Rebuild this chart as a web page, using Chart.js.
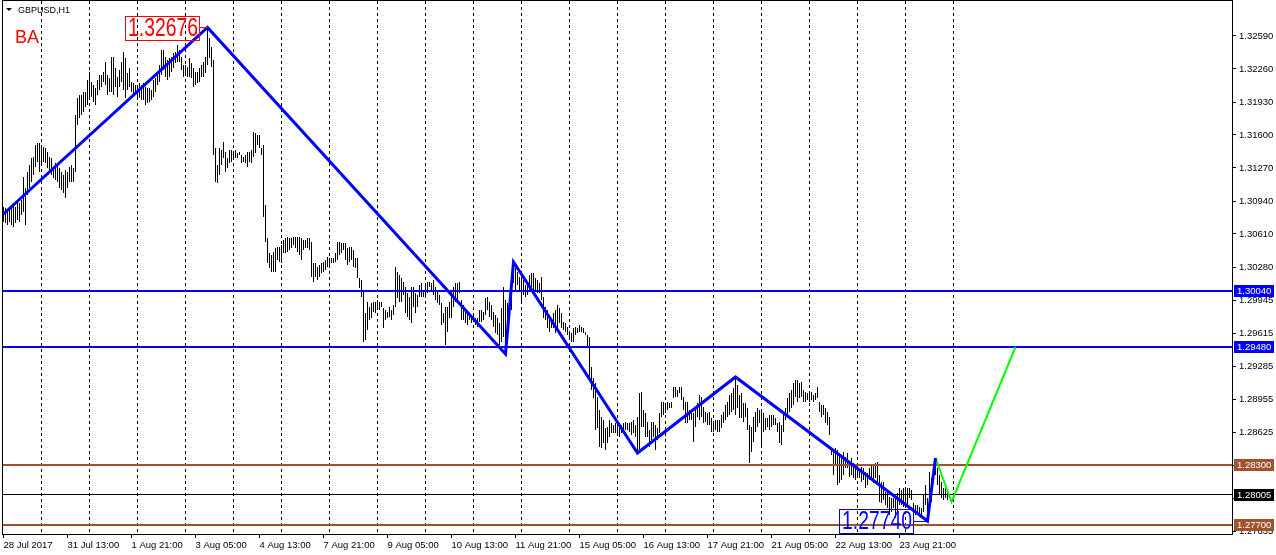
<!DOCTYPE html>
<html>
<head>
<meta charset="utf-8">
<script src="https://cdn.jsdelivr.net/npm/chart.js@4.4.1/dist/chart.umd.min.js"></script>
<style>
  html, body { margin: 0; padding: 0; background: #fff; }
  canvas { display: block; }
</style>
</head>
<body>
<canvas id="chart" width="1276" height="555"></canvas>
<script>
/* globals Chart:false */

// GBPUSD H1 bars, one per hour starting 28 Jul 2017 05:00 (bar index 0)
const highs = [
  1.3088,1.3087,1.3083,1.3085,1.3087,1.3090,1.3088,1.3093,1.3092,1.3095,
  1.3118,1.3107,1.3123,1.3130,1.3137,1.3138,1.3150,1.3152,1.3152,1.3150,
  1.3148,1.3147,1.3143,1.3138,1.3137,1.3128,1.3132,1.3130,1.3127,1.3123,
  1.3120,1.3125,1.3123,1.3128,1.3130,1.3127,1.3180,1.3197,1.3200,1.3200,
  1.3203,1.3203,1.3215,1.3223,1.3213,1.3210,1.3207,1.3215,1.3220,1.3220,
  1.3223,1.3233,1.3220,1.3217,1.3238,1.3238,1.3227,1.3218,1.3225,1.3233,
  1.3243,1.3237,1.3222,1.3227,1.3213,1.3212,1.3210,1.3208,1.3212,1.3210,
  1.3212,1.3208,1.3207,1.3207,1.3205,1.3215,1.3217,1.3220,1.3230,1.3245,
  1.3245,1.3238,1.3235,1.3237,1.3238,1.3242,1.3243,1.3250,1.3245,1.3238,
  1.3230,1.3230,1.3228,1.3237,1.3232,1.3227,1.3223,1.3223,1.3227,1.3230,
  1.3233,1.3238,1.32676,1.3257,1.3248,1.3235,1.3147,1.3130,1.3147,1.3145,
  1.3153,1.3143,1.3137,1.3145,1.3145,1.3143,1.3145,1.3142,1.3143,1.3140,
  1.3138,1.3140,1.3143,1.3143,1.3145,1.3163,1.3162,1.3160,1.3160,1.3147,
  1.3150,1.3090,1.3057,1.3042,1.3040,1.3043,1.3047,1.3048,1.3048,1.3050,
  1.3055,1.3057,1.3058,1.3057,1.3057,1.3058,1.3058,1.3058,1.3058,1.3057,
  1.3055,1.3055,1.3057,1.3057,1.3053,1.3032,1.3032,1.3028,1.3030,1.3032,
  1.3033,1.3035,1.3038,1.3037,1.3037,1.3037,1.3042,1.3053,1.3053,1.3052,
  1.3052,1.3052,1.3047,1.3048,1.3048,1.3045,1.3037,1.3037,1.3017,1.3015,
  1.3005,1.2982,1.2993,1.2988,1.2992,1.2993,1.2993,1.2995,1.2993,1.2993,
  1.2987,1.2985,1.2983,1.2988,1.2985,1.2990,1.3028,1.3023,1.3020,1.3017,
  1.3013,1.3008,1.3002,1.2998,1.3008,1.3008,1.3002,1.3000,1.3010,1.3012,
  1.3005,1.3010,1.3013,1.3013,1.3012,1.3015,1.3008,1.3003,1.3000,1.2992,
  1.2982,1.2988,1.2988,1.2993,1.3005,1.3008,1.3012,1.3012,1.3013,1.2995,
  1.2990,1.2985,1.2982,1.2982,1.2978,1.2982,1.2977,1.2977,1.2985,1.2985,
  1.2983,1.2997,1.2998,1.2993,1.2990,1.2983,1.2980,1.2977,1.2972,1.2987,
  1.3008,1.2995,1.2992,1.2990,1.3018,1.3033,1.3027,1.3023,1.3018,1.3017,
  1.3015,1.3010,1.3013,1.3020,1.3022,1.3022,1.3017,1.3015,1.3012,1.3018,
  1.2998,1.2988,1.2985,1.2980,1.2977,1.2982,1.2985,1.2990,1.2987,1.2982,
  1.2973,1.2972,1.2968,1.2963,1.2962,1.2967,1.2968,1.2967,1.2970,1.2968,
  1.2967,1.2963,1.2960,1.2958,1.2928,1.2917,1.2912,1.2898,1.2885,1.2878,
  1.2875,1.2867,1.2868,1.2875,1.2872,1.2870,1.2872,1.2875,1.2872,1.2870,
  1.2872,1.2873,1.2872,1.2872,1.2873,1.2875,1.2870,1.2878,1.2902,1.2903,
  1.2885,1.2882,1.2873,1.2865,1.2873,1.2873,1.2870,1.2867,1.2882,1.2893,
  1.2893,1.2892,1.2893,1.2892,1.2893,1.2908,1.2908,1.2905,1.2908,1.2908,
  1.2898,1.2893,1.2893,1.2885,1.2882,1.2882,1.2888,1.2892,1.2900,1.2898,
  1.2888,1.2883,1.2882,1.2883,1.2877,1.2872,1.2875,1.2875,1.2875,1.2880,
  1.2883,1.2890,1.2893,1.2900,1.2902,1.2907,1.2918,1.2910,1.2900,1.2902,
  1.2892,1.2892,1.2887,1.2870,1.2868,1.2878,1.2883,1.2887,1.2885,1.2885,
  1.2882,1.2877,1.2877,1.2880,1.2880,1.2880,1.2877,1.2872,1.2873,1.2870,
  1.2883,1.2887,1.2897,1.2902,1.2905,1.2912,1.2915,1.2915,1.2912,1.2913,
  1.2905,1.2903,1.2902,1.2903,1.2903,1.2900,1.2902,1.2908,1.2893,1.2890,
  1.2890,1.2887,1.2883,1.2878,1.2847,1.2845,1.2847,1.2845,1.2842,1.2840,
  1.2843,1.2838,1.2842,1.2832,1.2837,1.2832,1.2830,1.2830,1.2825,1.2828,
  1.2827,1.2823,1.2822,1.2827,1.2830,1.2830,1.2832,1.2833,1.2820,1.2813,
  1.2813,1.2803,1.2803,1.2798,1.2797,1.2797,1.2797,1.2802,1.2807,1.2805,
  1.2807,1.2805,1.2807,1.2807,1.2805,1.2792,1.2790,1.2790,1.2788,1.2787,
  1.2800,1.2810,1.2797,1.2823,1.2817,1.2828,1.2837,1.2827,1.2820,1.2813,
  1.2807,1.2807,1.2803
];

const lows = [
  1.3073,1.3072,1.3070,1.3073,1.3070,1.3068,1.3072,1.3075,1.3073,1.3080,
  1.3083,1.3070,1.3100,1.3107,1.3113,1.3120,1.3128,1.3133,1.3123,1.3130,
  1.3133,1.3132,1.3127,1.3123,1.3120,1.3117,1.3115,1.3113,1.3107,1.3105,
  1.3102,1.3097,1.3107,1.3113,1.3113,1.3113,1.3123,1.3170,1.3177,1.3180,
  1.3183,1.3188,1.3190,1.3197,1.3198,1.3193,1.3190,1.3200,1.3205,1.3208,
  1.3213,1.3210,1.3200,1.3203,1.3203,1.3200,1.3208,1.3198,1.3208,1.3213,
  1.3205,1.3197,1.3205,1.3208,1.3203,1.3198,1.3200,1.3198,1.3197,1.3195,
  1.3195,1.3190,1.3192,1.3193,1.3195,1.3198,1.3203,1.3210,1.3213,1.3220,
  1.3225,1.3218,1.3215,1.3218,1.3223,1.3227,1.3232,1.3233,1.3233,1.3225,
  1.3218,1.3220,1.3218,1.3218,1.3217,1.3208,1.3210,1.3212,1.3213,1.3218,
  1.3218,1.3222,1.3230,1.3237,1.3228,1.3140,1.3113,1.3112,1.3120,1.3130,
  1.3137,1.3123,1.3127,1.3132,1.3133,1.3135,1.3137,1.3137,1.3140,1.3132,
  1.3133,1.3132,1.3128,1.3133,1.3132,1.3138,1.3142,1.3150,1.3147,1.3140,
  1.3078,1.3053,1.3032,1.3027,1.3023,1.3023,1.3023,1.3035,1.3033,1.3032,
  1.3042,1.3042,1.3043,1.3045,1.3047,1.3050,1.3047,1.3043,1.3040,1.3035,
  1.3045,1.3047,1.3047,1.3045,1.3018,1.3013,1.3018,1.3015,1.3018,1.3022,
  1.3023,1.3025,1.3028,1.3027,1.3032,1.3032,1.3033,1.3035,1.3040,1.3042,
  1.3045,1.3035,1.3030,1.3033,1.3035,1.3028,1.3027,1.3017,1.3007,1.2998,
  1.2953,1.2955,1.2965,1.2975,1.2977,1.2983,1.2982,1.2988,1.2985,1.2988,
  1.2967,1.2975,1.2977,1.2978,1.2975,1.2980,1.2988,1.2997,1.2993,1.2993,
  1.3000,1.2982,1.2978,1.2975,1.2972,1.2988,1.2982,1.2988,1.2998,1.2998,
  1.2998,1.2998,1.3002,1.3008,1.3005,1.3000,1.2995,1.2992,1.2990,1.2970,
  1.2972,1.2950,1.2963,1.2977,1.2977,1.2988,1.2993,1.2995,1.3002,1.2975,
  1.2975,1.2972,1.2970,1.2975,1.2972,1.2975,1.2970,1.2968,1.2973,1.2973,
  1.2975,1.2980,1.2985,1.2978,1.2975,1.2968,1.2962,1.2960,1.2950,1.2953,
  1.2958,1.2941,1.2957,1.2975,1.2985,1.3012,1.3005,1.3010,1.3005,1.2992,
  1.3000,1.2998,1.3000,1.3005,1.3008,1.3005,1.3005,1.3002,1.3002,1.2995,
  1.2977,1.2975,1.2967,1.2963,1.2967,1.2967,1.2962,1.2963,1.2972,1.2967,
  1.2965,1.2963,1.2960,1.2955,1.2953,1.2953,1.2960,1.2962,1.2963,1.2963,
  1.2962,1.2960,1.2948,1.2918,1.2905,1.2897,1.2865,1.2867,1.2848,1.2847,
  1.2852,1.2845,1.2852,1.2858,1.2862,1.2862,1.2862,1.2862,1.2858,1.2862,
  1.2865,1.2865,1.2865,1.2863,1.2860,1.2862,1.2858,1.2842,1.2845,1.2868,
  1.2868,1.2858,1.2858,1.2848,1.2855,1.2858,1.2845,1.2855,1.2862,1.2878,
  1.2880,1.2882,1.2885,1.2887,1.2887,1.2897,1.2898,1.2898,1.2902,1.2895,
  1.2885,1.2872,1.2872,1.2875,1.2875,1.2853,1.2868,1.2878,1.2875,1.2878,
  1.2872,1.2873,1.2870,1.2870,1.2863,1.2863,1.2865,1.2863,1.2863,1.2867,
  1.2872,1.2875,1.2878,1.2880,1.2883,1.2885,1.2880,1.2887,1.2877,1.2877,
  1.2873,1.2878,1.2865,1.2832,1.2843,1.2853,1.2863,1.2868,1.2872,1.2848,
  1.2863,1.2865,1.2868,1.2865,1.2868,1.2870,1.2870,1.2863,1.2852,1.2850,
  1.2863,1.2875,1.2877,1.2883,1.2887,1.2890,1.2898,1.2893,1.2897,1.2898,
  1.2893,1.2893,1.2895,1.2893,1.2895,1.2893,1.2895,1.2897,1.2883,1.2878,
  1.2880,1.2872,1.2870,1.2860,1.2840,1.2820,1.2830,1.2810,1.2812,1.2815,
  1.2820,1.2827,1.2827,1.2818,1.2820,1.2817,1.2815,1.2820,1.2817,1.2813,
  1.2815,1.2807,1.2810,1.2815,1.2817,1.2812,1.2817,1.2813,1.2793,1.2792,
  1.2795,1.2790,1.2787,1.2780,1.2783,1.2787,1.2777,1.2783,1.2790,1.2790,
  1.2788,1.2792,1.2790,1.2797,1.2795,1.2785,1.2780,1.2783,1.2782,1.2780,
  1.2783,1.2790,1.2774,1.2790,1.2793,1.2813,1.2820,1.2810,1.2800,1.2797,
  1.2795,1.2797,1.2795
];

// zigzag swing points (bar index, price)
const zigzagIdx = [0, 102, 251, 255, 317, 366, 462, 466];
const zigzagPrice = [1.3081, 1.32676, 1.2941, 1.3033, 1.2842, 1.2918, 1.2774, 1.2837];

// projected leg (green)
const projIdx = [466, 474, 506];
const projPrice = [1.2837, 1.2793, 1.2948];

// horizontal levels
const levelPrices = [1.30040, 1.29480, 1.28300, 1.27700];
const levelColors = ['#0000ff', '#0000ff', '#a0522d', '#a0522d'];
const bidPrice = 1.28005;

// axes
const xTickIdx = [0, 32, 64, 96, 128, 160, 192, 224, 256, 288, 320, 352, 384, 416, 448];
const xTickLabels = ['28 Jul 2017', '31 Jul 13:00', '1 Aug 21:00', '3 Aug 05:00', '4 Aug 13:00',
  '7 Aug 21:00', '9 Aug 05:00', '10 Aug 13:00', '11 Aug 21:00', '15 Aug 05:00',
  '16 Aug 13:00', '17 Aug 21:00', '21 Aug 05:00', '22 Aug 13:00', '23 Aug 21:00'];
const dayStartIdx = [19, 43, 67, 91, 115, 139, 163, 187, 211, 235, 259, 283, 307, 331, 355, 379, 403, 427, 451, 475];
const yTicks = [1.32590, 1.32260, 1.31930, 1.31600, 1.31270, 1.30940, 1.30610, 1.30280,
  1.29945, 1.29615, 1.29285, 1.28955, 1.28625, 1.28295, 1.27965, 1.27635];

const X_MIN = -0.25, X_MAX = 614.25;
const Y_MIN = 1.2761, Y_MAX = 1.3294;
const AXIS_FONT = { family: 'Liberation Sans', size: 9.5 };

function flatLine(price, color, width) {
  return {
    type: 'line',
    data: [{ x: X_MIN, y: price }, { x: X_MAX, y: price }],
    borderColor: color,
    borderWidth: width,
    pointRadius: 0,
    order: 5
  };
}

const datasets = [
  {
    type: 'bar',
    data: highs.map((h, i) => ({ x: i, y: [lows[i], h] })),
    backgroundColor: '#000',
    borderWidth: 0,
    barThickness: 1,
    inflateAmount: 0,
    order: 10
  },
  ...levelPrices.map((p, i) => flatLine(p, levelColors[i], 2)),
  flatLine(bidPrice, '#000', 1),
  {
    type: 'line',
    data: zigzagIdx.map((x, i) => ({ x: x, y: zigzagPrice[i] })),
    borderColor: '#0000ff',
    borderWidth: 3,
    pointRadius: 0,
    order: 1
  },
  {
    type: 'line',
    data: projIdx.map((x, i) => ({ x: x, y: projPrice[i] })),
    borderColor: '#00ff00',
    borderWidth: 2,
    pointRadius: 0,
    order: 1
  }
];

function noPad(s) {
  s.paddingTop = 0; s.paddingBottom = 0; s.paddingLeft = 0; s.paddingRight = 0;
}

const overlay = {
  id: 'overlay',
  afterDraw(chart) {
    const { ctx, chartArea: a, scales } = chart;
    const xs = scales.x, ys = scales.y;
    ctx.save();

    // frame
    ctx.strokeStyle = '#000';
    ctx.lineWidth = 1;
    ctx.strokeRect(a.left - 0.5, a.top - 0.5, a.right - a.left + 1, a.bottom - a.top + 1);

    // price tags on the right axis
    ctx.font = '9.5px "Liberation Sans"';
    ctx.textBaseline = 'middle';
    const tags = levelPrices.map((p, i) => [p, levelColors[i]]).concat([[bidPrice, '#000']]);
    tags.forEach(([p, c]) => {
      const py = Math.round(ys.getPixelForValue(p));
      ctx.fillStyle = c;
      ctx.fillRect(a.right + 2, py - 6, 40, 12);
      ctx.fillStyle = '#fff';
      ctx.fillText(p.toFixed(5), a.right + 5, py + 0.5);
    });

    // swing labels: narrow text in a thin box, left of the swing point
    function swingTag(text, idx, price, color, dx, dy) {
      const px = xs.getPixelForValue(idx);
      const py = ys.getPixelForValue(price);
      const boxW = 74, textW = 70;
      const right = Math.round(px - dx);
      const top = Math.round(py + dy - 12);
      ctx.strokeStyle = color;
      ctx.lineWidth = 1;
      ctx.strokeRect(right - boxW + 0.5, top + 0.5, boxW, 24);
      ctx.beginPath();
      ctx.moveTo(right, Math.round(py) + 0.5);
      ctx.lineTo(px, Math.round(py) + 0.5);
      ctx.stroke();
      ctx.font = '25px "Liberation Sans"';
      const k = textW / ctx.measureText(text).width;
      ctx.save();
      ctx.translate(right - boxW + 3, top + 13);
      ctx.scale(k, 1);
      ctx.fillStyle = color;
      ctx.textBaseline = 'middle';
      ctx.fillText(text, 0, 0);
      ctx.restore();
    }
    swingTag('1.32676', zigzagIdx[1], zigzagPrice[1], '#ff0000', 8.5, 1);
    swingTag('1.27740', zigzagIdx[6], zigzagPrice[6], '#0000ff', 14.5, 0);

    // corner texts
    ctx.fillStyle = '#ff0000';
    ctx.font = '18px "Liberation Sans"';
    ctx.textBaseline = 'alphabetic';
    ctx.fillText('BA', 15, 43);

    ctx.fillStyle = '#000';
    ctx.beginPath();
    ctx.moveTo(6, 8); ctx.lineTo(12, 8); ctx.lineTo(9, 11); ctx.closePath();
    ctx.fill();
    ctx.font = '9px "Liberation Sans"';
    ctx.textBaseline = 'middle';
    ctx.fillText('GBPUSD,H1', 18, 10.5);

    ctx.restore();
  }
};

new Chart(document.getElementById('chart'), {
  type: 'bar',
  data: { datasets: datasets },
  options: {
    responsive: false,
    devicePixelRatio: 1,
    animation: false,
    events: [],
    layout: { padding: { left: 3, top: 1, right: 0, bottom: 0 } },
    plugins: { legend: { display: false }, tooltip: { enabled: false } },
    scales: {
      x: {
        type: 'linear',
        position: 'bottom',
        min: X_MIN,
        max: X_MAX,
        offset: false,
        afterBuildTicks: s => { s.ticks = xTickIdx.map(v => ({ value: v })); },
        afterFit: s => { s.height = 21; noPad(s); },
        ticks: {
          autoSkip: false,
          maxRotation: 0,
          align: 'start',
          padding: 2,
          color: '#000',
          font: AXIS_FONT,
          callback: (v, i) => xTickLabels[i]
        },
        grid: { offset: false, drawOnChartArea: false, drawTicks: true, tickLength: 4, color: '#000' },
        border: { display: false }
      },
      days: {
        type: 'linear',
        axis: 'x',
        position: 'top',
        min: X_MIN,
        max: X_MAX,
        offset: false,
        afterBuildTicks: s => { s.ticks = dayStartIdx.map(v => ({ value: v })); },
        afterFit: s => { s.height = 0; noPad(s); },
        ticks: { display: false },
        grid: { offset: false, drawOnChartArea: true, drawTicks: false, color: '#000', lineWidth: 1 },
        border: { display: false, dash: [3, 3] }
      },
      y: {
        type: 'linear',
        position: 'right',
        min: Y_MIN,
        max: Y_MAX,
        beginAtZero: false,
        afterBuildTicks: s => { s.ticks = yTicks.map(v => ({ value: v })); },
        afterFit: s => { s.width = 44; noPad(s); },
        ticks: {
          autoSkip: false,
          padding: 3,
          color: '#000',
          font: AXIS_FONT,
          callback: v => v.toFixed(5)
        },
        grid: { drawOnChartArea: false, drawTicks: true, tickLength: 4, color: '#000' },
        border: { display: false }
      }
    }
  },
  plugins: [overlay]
});
</script>
</body>
</html>
